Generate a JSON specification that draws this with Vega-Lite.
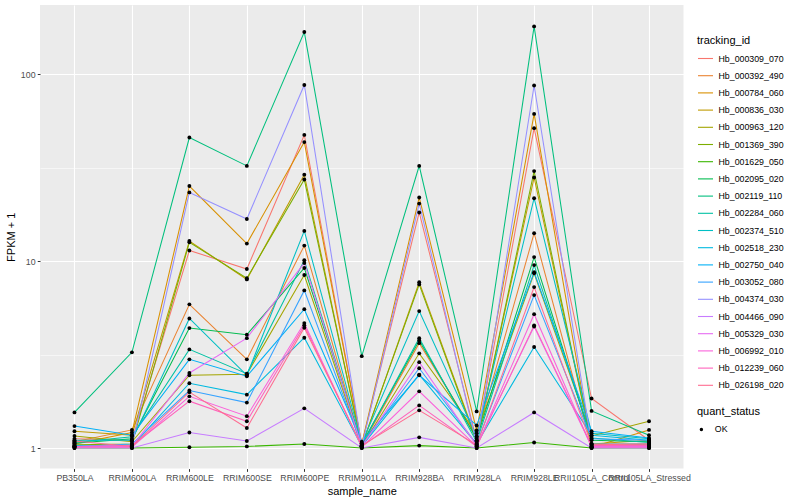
{
  "$schema": "https://vega.github.io/schema/vega-lite/v6.json",
  "autosize": {"type": "none"},
  "width": 643.5,
  "height": 463.6,
  "padding": {"left": 40, "top": 5, "right": 116.5, "bottom": 31.4},
  "background": "white",
  "config": {
    "view": {"fill": "#EBEBEB", "stroke": null},
    "font": "Liberation Sans",
    "axis": {
      "domain": false,
      "gridColor": "white",
      "tickColor": "#333333",
      "tickSize": 2.75,
      "tickWidth": 1,
      "labelColor": "#4D4D4D",
      "labelFontSize": 8.8,
      "labelFont": "Liberation Sans",
      "labelPadding": 2.2,
      "titleFont": "Liberation Sans",
      "titleFontSize": 11,
      "titleFontWeight": "normal",
      "titleColor": "black"
    },
    "legend": {
      "titleFont": "Liberation Sans",
      "titleFontSize": 11,
      "titleFontWeight": "normal",
      "titleColor": "black",
      "labelFont": "Liberation Sans",
      "labelFontSize": 8.8,
      "labelColor": "black",
      "padding": 0
    }
  },
  "data": {
    "values": [
      {"sample_name":"PB350LA","tracking_id":"Hb_000309_070","fpkm1":1.12,"quant_status":"OK"},
      {"sample_name":"RRIM600LA","tracking_id":"Hb_000309_070","fpkm1":1.10,"quant_status":"OK"},
      {"sample_name":"RRIM600LE","tracking_id":"Hb_000309_070","fpkm1":11.4,"quant_status":"OK"},
      {"sample_name":"RRIM600SE","tracking_id":"Hb_000309_070","fpkm1":9.07,"quant_status":"OK"},
      {"sample_name":"RRIM600PE","tracking_id":"Hb_000309_070","fpkm1":47.3,"quant_status":"OK"},
      {"sample_name":"RRIM901LA","tracking_id":"Hb_000309_070","fpkm1":1.05,"quant_status":"OK"},
      {"sample_name":"RRIM928BA","tracking_id":"Hb_000309_070","fpkm1":18.2,"quant_status":"OK"},
      {"sample_name":"RRIM928LA","tracking_id":"Hb_000309_070","fpkm1":1.10,"quant_status":"OK"},
      {"sample_name":"RRIM928LE","tracking_id":"Hb_000309_070","fpkm1":51.4,"quant_status":"OK"},
      {"sample_name":"RRII105LA_Control","tracking_id":"Hb_000309_070","fpkm1":1.84,"quant_status":"OK"},
      {"sample_name":"RRII105LA_Stressed","tracking_id":"Hb_000309_070","fpkm1":1.10,"quant_status":"OK"},

      {"sample_name":"PB350LA","tracking_id":"Hb_000392_490","fpkm1":1.08,"quant_status":"OK"},
      {"sample_name":"RRIM600LA","tracking_id":"Hb_000392_490","fpkm1":1.25,"quant_status":"OK"},
      {"sample_name":"RRIM600LE","tracking_id":"Hb_000392_490","fpkm1":5.87,"quant_status":"OK"},
      {"sample_name":"RRIM600SE","tracking_id":"Hb_000392_490","fpkm1":2.98,"quant_status":"OK"},
      {"sample_name":"RRIM600PE","tracking_id":"Hb_000392_490","fpkm1":12.1,"quant_status":"OK"},
      {"sample_name":"RRIM901LA","tracking_id":"Hb_000392_490","fpkm1":1.03,"quant_status":"OK"},
      {"sample_name":"RRIM928BA","tracking_id":"Hb_000392_490","fpkm1":3.64,"quant_status":"OK"},
      {"sample_name":"RRIM928LA","tracking_id":"Hb_000392_490","fpkm1":1.15,"quant_status":"OK"},
      {"sample_name":"RRIM928LE","tracking_id":"Hb_000392_490","fpkm1":14.1,"quant_status":"OK"},
      {"sample_name":"RRII105LA_Control","tracking_id":"Hb_000392_490","fpkm1":1.02,"quant_status":"OK"},
      {"sample_name":"RRII105LA_Stressed","tracking_id":"Hb_000392_490","fpkm1":1.05,"quant_status":"OK"},

      {"sample_name":"PB350LA","tracking_id":"Hb_000784_060","fpkm1":1.05,"quant_status":"OK"},
      {"sample_name":"RRIM600LA","tracking_id":"Hb_000784_060","fpkm1":1.21,"quant_status":"OK"},
      {"sample_name":"RRIM600LE","tracking_id":"Hb_000784_060","fpkm1":25.2,"quant_status":"OK"},
      {"sample_name":"RRIM600SE","tracking_id":"Hb_000784_060","fpkm1":12.4,"quant_status":"OK"},
      {"sample_name":"RRIM600PE","tracking_id":"Hb_000784_060","fpkm1":43.3,"quant_status":"OK"},
      {"sample_name":"RRIM901LA","tracking_id":"Hb_000784_060","fpkm1":1.05,"quant_status":"OK"},
      {"sample_name":"RRIM928BA","tracking_id":"Hb_000784_060","fpkm1":21.9,"quant_status":"OK"},
      {"sample_name":"RRIM928LA","tracking_id":"Hb_000784_060","fpkm1":1.24,"quant_status":"OK"},
      {"sample_name":"RRIM928LE","tracking_id":"Hb_000784_060","fpkm1":61.3,"quant_status":"OK"},
      {"sample_name":"RRII105LA_Control","tracking_id":"Hb_000784_060","fpkm1":1.01,"quant_status":"OK"},
      {"sample_name":"RRII105LA_Stressed","tracking_id":"Hb_000784_060","fpkm1":1.25,"quant_status":"OK"},

      {"sample_name":"PB350LA","tracking_id":"Hb_000836_030","fpkm1":1.23,"quant_status":"OK"},
      {"sample_name":"RRIM600LA","tracking_id":"Hb_000836_030","fpkm1":1.17,"quant_status":"OK"},
      {"sample_name":"RRIM600LE","tracking_id":"Hb_000836_030","fpkm1":12.8,"quant_status":"OK"},
      {"sample_name":"RRIM600SE","tracking_id":"Hb_000836_030","fpkm1":7.98,"quant_status":"OK"},
      {"sample_name":"RRIM600PE","tracking_id":"Hb_000836_030","fpkm1":29.0,"quant_status":"OK"},
      {"sample_name":"RRIM901LA","tracking_id":"Hb_000836_030","fpkm1":1.02,"quant_status":"OK"},
      {"sample_name":"RRIM928BA","tracking_id":"Hb_000836_030","fpkm1":7.7,"quant_status":"OK"},
      {"sample_name":"RRIM928LA","tracking_id":"Hb_000836_030","fpkm1":1.10,"quant_status":"OK"},
      {"sample_name":"RRIM928LE","tracking_id":"Hb_000836_030","fpkm1":28.0,"quant_status":"OK"},
      {"sample_name":"RRII105LA_Control","tracking_id":"Hb_000836_030","fpkm1":1.05,"quant_status":"OK"},
      {"sample_name":"RRII105LA_Stressed","tracking_id":"Hb_000836_030","fpkm1":1.10,"quant_status":"OK"},

      {"sample_name":"PB350LA","tracking_id":"Hb_000963_120","fpkm1":1.16,"quant_status":"OK"},
      {"sample_name":"RRIM600LA","tracking_id":"Hb_000963_120","fpkm1":1.08,"quant_status":"OK"},
      {"sample_name":"RRIM600LE","tracking_id":"Hb_000963_120","fpkm1":2.45,"quant_status":"OK"},
      {"sample_name":"RRIM600SE","tracking_id":"Hb_000963_120","fpkm1":2.48,"quant_status":"OK"},
      {"sample_name":"RRIM600PE","tracking_id":"Hb_000963_120","fpkm1":8.42,"quant_status":"OK"},
      {"sample_name":"RRIM901LA","tracking_id":"Hb_000963_120","fpkm1":1.02,"quant_status":"OK"},
      {"sample_name":"RRIM928BA","tracking_id":"Hb_000963_120","fpkm1":3.21,"quant_status":"OK"},
      {"sample_name":"RRIM928LA","tracking_id":"Hb_000963_120","fpkm1":1.20,"quant_status":"OK"},
      {"sample_name":"RRIM928LE","tracking_id":"Hb_000963_120","fpkm1":8.6,"quant_status":"OK"},
      {"sample_name":"RRII105LA_Control","tracking_id":"Hb_000963_120","fpkm1":1.16,"quant_status":"OK"},
      {"sample_name":"RRII105LA_Stressed","tracking_id":"Hb_000963_120","fpkm1":1.39,"quant_status":"OK"},

      {"sample_name":"PB350LA","tracking_id":"Hb_001369_390","fpkm1":1.04,"quant_status":"OK"},
      {"sample_name":"RRIM600LA","tracking_id":"Hb_001369_390","fpkm1":1.05,"quant_status":"OK"},
      {"sample_name":"RRIM600LE","tracking_id":"Hb_001369_390","fpkm1":12.6,"quant_status":"OK"},
      {"sample_name":"RRIM600SE","tracking_id":"Hb_001369_390","fpkm1":8.1,"quant_status":"OK"},
      {"sample_name":"RRIM600PE","tracking_id":"Hb_001369_390","fpkm1":27.3,"quant_status":"OK"},
      {"sample_name":"RRIM901LA","tracking_id":"Hb_001369_390","fpkm1":1.03,"quant_status":"OK"},
      {"sample_name":"RRIM928BA","tracking_id":"Hb_001369_390","fpkm1":7.5,"quant_status":"OK"},
      {"sample_name":"RRIM928LA","tracking_id":"Hb_001369_390","fpkm1":1.08,"quant_status":"OK"},
      {"sample_name":"RRIM928LE","tracking_id":"Hb_001369_390","fpkm1":30.3,"quant_status":"OK"},
      {"sample_name":"RRII105LA_Control","tracking_id":"Hb_001369_390","fpkm1":1.05,"quant_status":"OK"},
      {"sample_name":"RRII105LA_Stressed","tracking_id":"Hb_001369_390","fpkm1":1.05,"quant_status":"OK"},

      {"sample_name":"PB350LA","tracking_id":"Hb_001629_050","fpkm1":1.0,"quant_status":"OK"},
      {"sample_name":"RRIM600LA","tracking_id":"Hb_001629_050","fpkm1":1.0,"quant_status":"OK"},
      {"sample_name":"RRIM600LE","tracking_id":"Hb_001629_050","fpkm1":1.01,"quant_status":"OK"},
      {"sample_name":"RRIM600SE","tracking_id":"Hb_001629_050","fpkm1":1.02,"quant_status":"OK"},
      {"sample_name":"RRIM600PE","tracking_id":"Hb_001629_050","fpkm1":1.05,"quant_status":"OK"},
      {"sample_name":"RRIM901LA","tracking_id":"Hb_001629_050","fpkm1":1.0,"quant_status":"OK"},
      {"sample_name":"RRIM928BA","tracking_id":"Hb_001629_050","fpkm1":1.03,"quant_status":"OK"},
      {"sample_name":"RRIM928LA","tracking_id":"Hb_001629_050","fpkm1":1.0,"quant_status":"OK"},
      {"sample_name":"RRIM928LE","tracking_id":"Hb_001629_050","fpkm1":1.07,"quant_status":"OK"},
      {"sample_name":"RRII105LA_Control","tracking_id":"Hb_001629_050","fpkm1":1.0,"quant_status":"OK"},
      {"sample_name":"RRII105LA_Stressed","tracking_id":"Hb_001629_050","fpkm1":1.0,"quant_status":"OK"},

      {"sample_name":"PB350LA","tracking_id":"Hb_002095_020","fpkm1":1.06,"quant_status":"OK"},
      {"sample_name":"RRIM600LA","tracking_id":"Hb_002095_020","fpkm1":1.12,"quant_status":"OK"},
      {"sample_name":"RRIM600LE","tracking_id":"Hb_002095_020","fpkm1":4.38,"quant_status":"OK"},
      {"sample_name":"RRIM600SE","tracking_id":"Hb_002095_020","fpkm1":4.04,"quant_status":"OK"},
      {"sample_name":"RRIM600PE","tracking_id":"Hb_002095_020","fpkm1":9.18,"quant_status":"OK"},
      {"sample_name":"RRIM901LA","tracking_id":"Hb_002095_020","fpkm1":1.05,"quant_status":"OK"},
      {"sample_name":"RRIM928BA","tracking_id":"Hb_002095_020","fpkm1":3.76,"quant_status":"OK"},
      {"sample_name":"RRIM928LA","tracking_id":"Hb_002095_020","fpkm1":1.12,"quant_status":"OK"},
      {"sample_name":"RRIM928LE","tracking_id":"Hb_002095_020","fpkm1":10.5,"quant_status":"OK"},
      {"sample_name":"RRII105LA_Control","tracking_id":"Hb_002095_020","fpkm1":1.10,"quant_status":"OK"},
      {"sample_name":"RRII105LA_Stressed","tracking_id":"Hb_002095_020","fpkm1":1.08,"quant_status":"OK"},

      {"sample_name":"PB350LA","tracking_id":"Hb_002119_110","fpkm1":1.55,"quant_status":"OK"},
      {"sample_name":"RRIM600LA","tracking_id":"Hb_002119_110","fpkm1":3.25,"quant_status":"OK"},
      {"sample_name":"RRIM600LE","tracking_id":"Hb_002119_110","fpkm1":45.8,"quant_status":"OK"},
      {"sample_name":"RRIM600SE","tracking_id":"Hb_002119_110","fpkm1":32.3,"quant_status":"OK"},
      {"sample_name":"RRIM600PE","tracking_id":"Hb_002119_110","fpkm1":168,"quant_status":"OK"},
      {"sample_name":"RRIM901LA","tracking_id":"Hb_002119_110","fpkm1":3.1,"quant_status":"OK"},
      {"sample_name":"RRIM928BA","tracking_id":"Hb_002119_110","fpkm1":32.3,"quant_status":"OK"},
      {"sample_name":"RRIM928LA","tracking_id":"Hb_002119_110","fpkm1":1.57,"quant_status":"OK"},
      {"sample_name":"RRIM928LE","tracking_id":"Hb_002119_110","fpkm1":180,"quant_status":"OK"},
      {"sample_name":"RRII105LA_Control","tracking_id":"Hb_002119_110","fpkm1":1.58,"quant_status":"OK"},
      {"sample_name":"RRII105LA_Stressed","tracking_id":"Hb_002119_110","fpkm1":1.17,"quant_status":"OK"},

      {"sample_name":"PB350LA","tracking_id":"Hb_002284_060","fpkm1":1.07,"quant_status":"OK"},
      {"sample_name":"RRIM600LA","tracking_id":"Hb_002284_060","fpkm1":1.15,"quant_status":"OK"},
      {"sample_name":"RRIM600LE","tracking_id":"Hb_002284_060","fpkm1":3.37,"quant_status":"OK"},
      {"sample_name":"RRIM600SE","tracking_id":"Hb_002284_060","fpkm1":2.50,"quant_status":"OK"},
      {"sample_name":"RRIM600PE","tracking_id":"Hb_002284_060","fpkm1":10.1,"quant_status":"OK"},
      {"sample_name":"RRIM901LA","tracking_id":"Hb_002284_060","fpkm1":1.04,"quant_status":"OK"},
      {"sample_name":"RRIM928BA","tracking_id":"Hb_002284_060","fpkm1":3.87,"quant_status":"OK"},
      {"sample_name":"RRIM928LA","tracking_id":"Hb_002284_060","fpkm1":1.08,"quant_status":"OK"},
      {"sample_name":"RRIM928LE","tracking_id":"Hb_002284_060","fpkm1":9.52,"quant_status":"OK"},
      {"sample_name":"RRII105LA_Control","tracking_id":"Hb_002284_060","fpkm1":1.13,"quant_status":"OK"},
      {"sample_name":"RRII105LA_Stressed","tracking_id":"Hb_002284_060","fpkm1":1.07,"quant_status":"OK"},

      {"sample_name":"PB350LA","tracking_id":"Hb_002374_510","fpkm1":1.10,"quant_status":"OK"},
      {"sample_name":"RRIM600LA","tracking_id":"Hb_002374_510","fpkm1":1.10,"quant_status":"OK"},
      {"sample_name":"RRIM600LE","tracking_id":"Hb_002374_510","fpkm1":4.93,"quant_status":"OK"},
      {"sample_name":"RRIM600SE","tracking_id":"Hb_002374_510","fpkm1":2.45,"quant_status":"OK"},
      {"sample_name":"RRIM600PE","tracking_id":"Hb_002374_510","fpkm1":14.5,"quant_status":"OK"},
      {"sample_name":"RRIM901LA","tracking_id":"Hb_002374_510","fpkm1":1.06,"quant_status":"OK"},
      {"sample_name":"RRIM928BA","tracking_id":"Hb_002374_510","fpkm1":5.4,"quant_status":"OK"},
      {"sample_name":"RRIM928LA","tracking_id":"Hb_002374_510","fpkm1":1.15,"quant_status":"OK"},
      {"sample_name":"RRIM928LE","tracking_id":"Hb_002374_510","fpkm1":21.7,"quant_status":"OK"},
      {"sample_name":"RRII105LA_Control","tracking_id":"Hb_002374_510","fpkm1":1.20,"quant_status":"OK"},
      {"sample_name":"RRII105LA_Stressed","tracking_id":"Hb_002374_510","fpkm1":1.12,"quant_status":"OK"},

      {"sample_name":"PB350LA","tracking_id":"Hb_002518_230","fpkm1":1.03,"quant_status":"OK"},
      {"sample_name":"RRIM600LA","tracking_id":"Hb_002518_230","fpkm1":1.02,"quant_status":"OK"},
      {"sample_name":"RRIM600LE","tracking_id":"Hb_002518_230","fpkm1":2.22,"quant_status":"OK"},
      {"sample_name":"RRIM600SE","tracking_id":"Hb_002518_230","fpkm1":1.93,"quant_status":"OK"},
      {"sample_name":"RRIM600PE","tracking_id":"Hb_002518_230","fpkm1":3.89,"quant_status":"OK"},
      {"sample_name":"RRIM901LA","tracking_id":"Hb_002518_230","fpkm1":1.02,"quant_status":"OK"},
      {"sample_name":"RRIM928BA","tracking_id":"Hb_002518_230","fpkm1":2.47,"quant_status":"OK"},
      {"sample_name":"RRIM928LA","tracking_id":"Hb_002518_230","fpkm1":1.05,"quant_status":"OK"},
      {"sample_name":"RRIM928LE","tracking_id":"Hb_002518_230","fpkm1":3.47,"quant_status":"OK"},
      {"sample_name":"RRII105LA_Control","tracking_id":"Hb_002518_230","fpkm1":1.17,"quant_status":"OK"},
      {"sample_name":"RRII105LA_Stressed","tracking_id":"Hb_002518_230","fpkm1":1.10,"quant_status":"OK"},

      {"sample_name":"PB350LA","tracking_id":"Hb_002750_040","fpkm1":1.31,"quant_status":"OK"},
      {"sample_name":"RRIM600LA","tracking_id":"Hb_002750_040","fpkm1":1.17,"quant_status":"OK"},
      {"sample_name":"RRIM600LE","tracking_id":"Hb_002750_040","fpkm1":2.98,"quant_status":"OK"},
      {"sample_name":"RRIM600SE","tracking_id":"Hb_002750_040","fpkm1":2.42,"quant_status":"OK"},
      {"sample_name":"RRIM600PE","tracking_id":"Hb_002750_040","fpkm1":5.53,"quant_status":"OK"},
      {"sample_name":"RRIM901LA","tracking_id":"Hb_002750_040","fpkm1":1.08,"quant_status":"OK"},
      {"sample_name":"RRIM928BA","tracking_id":"Hb_002750_040","fpkm1":2.45,"quant_status":"OK"},
      {"sample_name":"RRIM928LA","tracking_id":"Hb_002750_040","fpkm1":1.32,"quant_status":"OK"},
      {"sample_name":"RRIM928LE","tracking_id":"Hb_002750_040","fpkm1":8.71,"quant_status":"OK"},
      {"sample_name":"RRII105LA_Control","tracking_id":"Hb_002750_040","fpkm1":1.23,"quant_status":"OK"},
      {"sample_name":"RRII105LA_Stressed","tracking_id":"Hb_002750_040","fpkm1":1.13,"quant_status":"OK"},

      {"sample_name":"PB350LA","tracking_id":"Hb_003052_080","fpkm1":1.02,"quant_status":"OK"},
      {"sample_name":"RRIM600LA","tracking_id":"Hb_003052_080","fpkm1":1.05,"quant_status":"OK"},
      {"sample_name":"RRIM600LE","tracking_id":"Hb_003052_080","fpkm1":2.03,"quant_status":"OK"},
      {"sample_name":"RRIM600SE","tracking_id":"Hb_003052_080","fpkm1":1.75,"quant_status":"OK"},
      {"sample_name":"RRIM600PE","tracking_id":"Hb_003052_080","fpkm1":6.97,"quant_status":"OK"},
      {"sample_name":"RRIM901LA","tracking_id":"Hb_003052_080","fpkm1":1.03,"quant_status":"OK"},
      {"sample_name":"RRIM928BA","tracking_id":"Hb_003052_080","fpkm1":2.67,"quant_status":"OK"},
      {"sample_name":"RRIM928LA","tracking_id":"Hb_003052_080","fpkm1":1.05,"quant_status":"OK"},
      {"sample_name":"RRIM928LE","tracking_id":"Hb_003052_080","fpkm1":6.58,"quant_status":"OK"},
      {"sample_name":"RRII105LA_Control","tracking_id":"Hb_003052_080","fpkm1":1.12,"quant_status":"OK"},
      {"sample_name":"RRII105LA_Stressed","tracking_id":"Hb_003052_080","fpkm1":1.10,"quant_status":"OK"},

      {"sample_name":"PB350LA","tracking_id":"Hb_004374_030","fpkm1":1.02,"quant_status":"OK"},
      {"sample_name":"RRIM600LA","tracking_id":"Hb_004374_030","fpkm1":1.03,"quant_status":"OK"},
      {"sample_name":"RRIM600LE","tracking_id":"Hb_004374_030","fpkm1":23.3,"quant_status":"OK"},
      {"sample_name":"RRIM600SE","tracking_id":"Hb_004374_030","fpkm1":16.8,"quant_status":"OK"},
      {"sample_name":"RRIM600PE","tracking_id":"Hb_004374_030","fpkm1":87.5,"quant_status":"OK"},
      {"sample_name":"RRIM901LA","tracking_id":"Hb_004374_030","fpkm1":1.02,"quant_status":"OK"},
      {"sample_name":"RRIM928BA","tracking_id":"Hb_004374_030","fpkm1":20.3,"quant_status":"OK"},
      {"sample_name":"RRIM928LA","tracking_id":"Hb_004374_030","fpkm1":1.05,"quant_status":"OK"},
      {"sample_name":"RRIM928LE","tracking_id":"Hb_004374_030","fpkm1":87,"quant_status":"OK"},
      {"sample_name":"RRII105LA_Control","tracking_id":"Hb_004374_030","fpkm1":1.05,"quant_status":"OK"},
      {"sample_name":"RRII105LA_Stressed","tracking_id":"Hb_004374_030","fpkm1":1.05,"quant_status":"OK"},

      {"sample_name":"PB350LA","tracking_id":"Hb_004466_090","fpkm1":1.0,"quant_status":"OK"},
      {"sample_name":"RRIM600LA","tracking_id":"Hb_004466_090","fpkm1":1.0,"quant_status":"OK"},
      {"sample_name":"RRIM600LE","tracking_id":"Hb_004466_090","fpkm1":1.21,"quant_status":"OK"},
      {"sample_name":"RRIM600SE","tracking_id":"Hb_004466_090","fpkm1":1.09,"quant_status":"OK"},
      {"sample_name":"RRIM600PE","tracking_id":"Hb_004466_090","fpkm1":1.63,"quant_status":"OK"},
      {"sample_name":"RRIM901LA","tracking_id":"Hb_004466_090","fpkm1":1.0,"quant_status":"OK"},
      {"sample_name":"RRIM928BA","tracking_id":"Hb_004466_090","fpkm1":1.14,"quant_status":"OK"},
      {"sample_name":"RRIM928LA","tracking_id":"Hb_004466_090","fpkm1":1.0,"quant_status":"OK"},
      {"sample_name":"RRIM928LE","tracking_id":"Hb_004466_090","fpkm1":1.55,"quant_status":"OK"},
      {"sample_name":"RRII105LA_Control","tracking_id":"Hb_004466_090","fpkm1":1.0,"quant_status":"OK"},
      {"sample_name":"RRII105LA_Stressed","tracking_id":"Hb_004466_090","fpkm1":1.0,"quant_status":"OK"},

      {"sample_name":"PB350LA","tracking_id":"Hb_005329_030","fpkm1":1.02,"quant_status":"OK"},
      {"sample_name":"RRIM600LA","tracking_id":"Hb_005329_030","fpkm1":1.02,"quant_status":"OK"},
      {"sample_name":"RRIM600LE","tracking_id":"Hb_005329_030","fpkm1":2.52,"quant_status":"OK"},
      {"sample_name":"RRIM600SE","tracking_id":"Hb_005329_030","fpkm1":3.87,"quant_status":"OK"},
      {"sample_name":"RRIM600PE","tracking_id":"Hb_005329_030","fpkm1":9.77,"quant_status":"OK"},
      {"sample_name":"RRIM901LA","tracking_id":"Hb_005329_030","fpkm1":1.02,"quant_status":"OK"},
      {"sample_name":"RRIM928BA","tracking_id":"Hb_005329_030","fpkm1":2.88,"quant_status":"OK"},
      {"sample_name":"RRIM928LA","tracking_id":"Hb_005329_030","fpkm1":1.03,"quant_status":"OK"},
      {"sample_name":"RRIM928LE","tracking_id":"Hb_005329_030","fpkm1":4.47,"quant_status":"OK"},
      {"sample_name":"RRII105LA_Control","tracking_id":"Hb_005329_030","fpkm1":1.02,"quant_status":"OK"},
      {"sample_name":"RRII105LA_Stressed","tracking_id":"Hb_005329_030","fpkm1":1.02,"quant_status":"OK"},

      {"sample_name":"PB350LA","tracking_id":"Hb_006992_010","fpkm1":1.01,"quant_status":"OK"},
      {"sample_name":"RRIM600LA","tracking_id":"Hb_006992_010","fpkm1":1.01,"quant_status":"OK"},
      {"sample_name":"RRIM600LE","tracking_id":"Hb_006992_010","fpkm1":1.89,"quant_status":"OK"},
      {"sample_name":"RRIM600SE","tracking_id":"Hb_006992_010","fpkm1":1.48,"quant_status":"OK"},
      {"sample_name":"RRIM600PE","tracking_id":"Hb_006992_010","fpkm1":4.66,"quant_status":"OK"},
      {"sample_name":"RRIM901LA","tracking_id":"Hb_006992_010","fpkm1":1.01,"quant_status":"OK"},
      {"sample_name":"RRIM928BA","tracking_id":"Hb_006992_010","fpkm1":2.01,"quant_status":"OK"},
      {"sample_name":"RRIM928LA","tracking_id":"Hb_006992_010","fpkm1":1.02,"quant_status":"OK"},
      {"sample_name":"RRIM928LE","tracking_id":"Hb_006992_010","fpkm1":5.2,"quant_status":"OK"},
      {"sample_name":"RRII105LA_Control","tracking_id":"Hb_006992_010","fpkm1":1.01,"quant_status":"OK"},
      {"sample_name":"RRII105LA_Stressed","tracking_id":"Hb_006992_010","fpkm1":1.01,"quant_status":"OK"},

      {"sample_name":"PB350LA","tracking_id":"Hb_012239_060","fpkm1":1.02,"quant_status":"OK"},
      {"sample_name":"RRIM600LA","tracking_id":"Hb_012239_060","fpkm1":1.03,"quant_status":"OK"},
      {"sample_name":"RRIM600LE","tracking_id":"Hb_012239_060","fpkm1":1.78,"quant_status":"OK"},
      {"sample_name":"RRIM600SE","tracking_id":"Hb_012239_060","fpkm1":1.39,"quant_status":"OK"},
      {"sample_name":"RRIM600PE","tracking_id":"Hb_012239_060","fpkm1":4.53,"quant_status":"OK"},
      {"sample_name":"RRIM901LA","tracking_id":"Hb_012239_060","fpkm1":1.02,"quant_status":"OK"},
      {"sample_name":"RRIM928BA","tracking_id":"Hb_012239_060","fpkm1":1.69,"quant_status":"OK"},
      {"sample_name":"RRIM928LA","tracking_id":"Hb_012239_060","fpkm1":1.02,"quant_status":"OK"},
      {"sample_name":"RRIM928LE","tracking_id":"Hb_012239_060","fpkm1":4.53,"quant_status":"OK"},
      {"sample_name":"RRII105LA_Control","tracking_id":"Hb_012239_060","fpkm1":1.03,"quant_status":"OK"},
      {"sample_name":"RRII105LA_Stressed","tracking_id":"Hb_012239_060","fpkm1":1.03,"quant_status":"OK"},

      {"sample_name":"PB350LA","tracking_id":"Hb_026198_020","fpkm1":1.09,"quant_status":"OK"},
      {"sample_name":"RRIM600LA","tracking_id":"Hb_026198_020","fpkm1":1.02,"quant_status":"OK"},
      {"sample_name":"RRIM600LE","tracking_id":"Hb_026198_020","fpkm1":1.99,"quant_status":"OK"},
      {"sample_name":"RRIM600SE","tracking_id":"Hb_026198_020","fpkm1":1.28,"quant_status":"OK"},
      {"sample_name":"RRIM600PE","tracking_id":"Hb_026198_020","fpkm1":4.40,"quant_status":"OK"},
      {"sample_name":"RRIM901LA","tracking_id":"Hb_026198_020","fpkm1":1.03,"quant_status":"OK"},
      {"sample_name":"RRIM928BA","tracking_id":"Hb_026198_020","fpkm1":1.59,"quant_status":"OK"},
      {"sample_name":"RRIM928LA","tracking_id":"Hb_026198_020","fpkm1":1.04,"quant_status":"OK"},
      {"sample_name":"RRIM928LE","tracking_id":"Hb_026198_020","fpkm1":7.26,"quant_status":"OK"},
      {"sample_name":"RRII105LA_Control","tracking_id":"Hb_026198_020","fpkm1":1.04,"quant_status":"OK"},
      {"sample_name":"RRII105LA_Stressed","tracking_id":"Hb_026198_020","fpkm1":1.05,"quant_status":"OK"}
    ]
  },
  "encoding": {
    "x": {
      "field": "sample_name",
      "type": "nominal",
      "sort": ["PB350LA","RRIM600LA","RRIM600LE","RRIM600SE","RRIM600PE","RRIM901LA","RRIM928BA","RRIM928LA","RRIM928LE","RRII105LA_Control","RRII105LA_Stressed"],
      "scale": {"type": "point", "padding": 0.6},
      "axis": {
        "title": "sample_name",
        "labelAngle": 0,
        "labelOverlap": false,
        "labelBound": false,
        "labelFlush": false,
        "grid": true,
        "gridWidth": 1.1,
        "titlePadding": 3
      }
    },
    "y": {
      "field": "fpkm1",
      "type": "quantitative",
      "scale": {"type": "log", "domain": [0.776, 234.4], "nice": false, "zero": false},
      "axis": {
        "title": "FPKM + 1",
        "values": [1, 3.16228, 10, 31.6228, 100],
        "labelExpr": "datum.value == 1 || datum.value == 10 || datum.value == 100 ? format(datum.value, 'd') : ''",
        "grid": true,
        "gridWidth": {"condition": {"test": "datum.value == 1 || datum.value == 10 || datum.value == 100", "value": 1.1}, "value": 0.55},
        "tickOpacity": {"condition": {"test": "datum.value == 1 || datum.value == 10 || datum.value == 100", "value": 1}, "value": 0},
        "titlePadding": 4
      }
    }
  },
  "layer": [
    {
      "mark": {"type": "line", "strokeWidth": 1.05},
      "encoding": {
        "color": {
          "field": "tracking_id",
          "type": "nominal",
          "scale": {
            "domain": ["Hb_000309_070","Hb_000392_490","Hb_000784_060","Hb_000836_030","Hb_000963_120","Hb_001369_390","Hb_001629_050","Hb_002095_020","Hb_002119_110","Hb_002284_060","Hb_002374_510","Hb_002518_230","Hb_002750_040","Hb_003052_080","Hb_004374_030","Hb_004466_090","Hb_005329_030","Hb_006992_010","Hb_012239_060","Hb_026198_020"],
            "range": ["#F8766D","#EA8331","#D89000","#C09B00","#A3A500","#7CAE00","#39B600","#00BB4E","#00BF7D","#00C1A3","#00BFC4","#00BAE0","#00B0F6","#35A2FF","#9590FF","#C77CFF","#E76BF3","#FA62DB","#FF62BC","#FF6C91"]
          },
          "legend": {
            "title": "tracking_id",
            "orient": "none",
            "legendX": 657,
            "legendY": 30,
            "symbolType": "stroke",
            "symbolSize": 225,
            "symbolStrokeWidth": 1.1,
            "rowPadding": 3.2,
            "labelOffset": 4.5,
            "titlePadding": 4
          }
        }
      }
    },
    {
      "mark": {"type": "point", "filled": true, "color": "black", "size": 15, "opacity": 1, "shape": "circle"},
      "encoding": {
        "shape": {
          "field": "quant_status",
          "type": "nominal",
          "scale": {"range": ["circle"]},
          "legend": {
            "title": "quant_status",
            "orient": "none",
            "legendX": 657,
            "legendY": 401,
            "symbolType": "square",
            "symbolSize": 12,
            "symbolFillColor": "black",
            "symbolStrokeColor": "black",
            "labelOffset": 9,
            "titlePadding": 8
          }
        }
      }
    }
  ]
}
